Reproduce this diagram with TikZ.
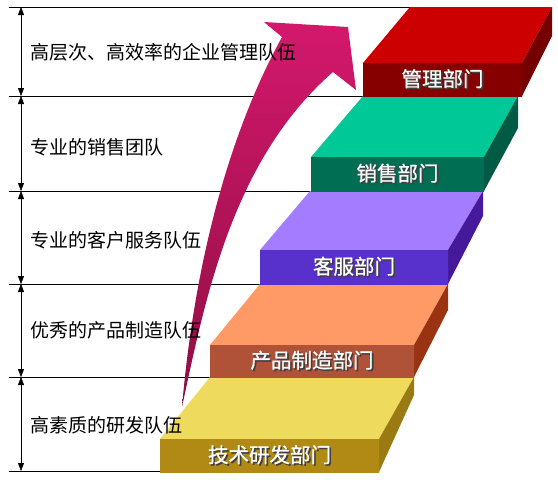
\documentclass[tikz,border=0pt]{standalone}
\usepackage{fontspec}
\setmainfont{Noto Sans CJK SC}
\newfontfamily\deptfont[FakeBold=0.8]{Noto Sans CJK SC}
\usetikzlibrary{arrows.meta}
\definecolor{redtop}{HTML}{CC0000}
\definecolor{redfrontA}{HTML}{860000}
\definecolor{redfrontB}{HTML}{AC0404}
\definecolor{redside}{HTML}{740000}
\definecolor{tealtop}{HTML}{00C896}
\definecolor{tealfrontA}{HTML}{006E52}
\definecolor{tealfrontB}{HTML}{10907A}
\definecolor{tealside}{HTML}{005A44}
\definecolor{purpletop}{HTML}{A47CFF}
\definecolor{purplefrontA}{HTML}{5830CC}
\definecolor{purplefrontB}{HTML}{7444F4}
\definecolor{purpleside}{HTML}{46189A}
\definecolor{orangetop}{HTML}{FF9966}
\definecolor{orangefrontA}{HTML}{B05238}
\definecolor{orangefrontB}{HTML}{D47254}
\definecolor{orangeside}{HTML}{993311}
\definecolor{yellowtop}{HTML}{EEDB5E}
\definecolor{yellowfrontA}{HTML}{B08A14}
\definecolor{yellowfrontB}{HTML}{D2AC30}
\definecolor{yellowside}{HTML}{9A7A12}
\definecolor{arrowA}{HTML}{D4186C}
\definecolor{arrowB}{HTML}{8E0E42}
% white name with a dark drop shadow
\newcommand{\deptname}[1]{\makebox[0pt][l]{\kern1.6pt\raisebox{-1.6pt}{\color{black!75}#1}}#1}

\begin{document}
\begin{tikzpicture}[line cap=round,line join=round,x=1pt,y=-1pt,
  >={Triangle[length=8pt,width=6pt]},
  teamlabel/.style={anchor=west,inner sep=0pt,font=\fontsize{19}{19}\selectfont},
  deptlabel/.style={inner sep=0pt,text=white,font=\deptfont\fontsize{20.5}{21}\selectfont}]
\useasboundingbox (0,0) rectangle (558,480);
% level lines
\draw (9,7)-- (410,7);
\draw (9,96)-- (363,96);
\draw (9,191)-- (311,191);
\draw (9,284)-- (260,284);
\draw (9,377)-- (210,377);
\draw (9,471)-- (160,471);
% dimension arrows
\draw[<->] (21,7)-- (21,96);
\draw[<->] (21,96)-- (21,191);
\draw[<->] (21,191)-- (21,284);
\draw[<->] (21,284)-- (21,377);
\draw[<->] (21,377)-- (21,471);
% yellow step
\fill[yellowtop] (160,439)-- (210,377)-- (414,377)-- (379,439)-- cycle;
\fill[yellowside] (379,439)-- (414,377)-- (414,395)-- (379,472)-- cycle;
\shade[top color=yellowfrontA,middle color=yellowfrontB,bottom color=yellowfrontA] (160,439) rectangle (379,472);
% orange step
\fill[orangetop] (210,345)-- (260,284)-- (448,284)-- (414,345)-- cycle;
\fill[orangeside] (414,345)-- (448,284)-- (448,310)-- (414,377)-- cycle;
\shade[top color=orangefrontA,middle color=orangefrontB,bottom color=orangefrontA] (210,345) rectangle (414,377);
% purple step
\fill[purpletop] (260,250)-- (310,191)-- (483,191)-- (448,250)-- cycle;
\fill[purpleside] (448,250)-- (483,191)-- (483,216)-- (448,284)-- cycle;
\shade[top color=purplefrontA,middle color=purplefrontB,bottom color=purplefrontA] (260,250) rectangle (448,284);
% teal step
\fill[tealtop] (311,157)-- (363,96)-- (518,96)-- (484,157)-- cycle;
\fill[tealside] (484,157)-- (518,96)-- (518,128)-- (484,191)-- cycle;
\shade[top color=tealfrontA,middle color=tealfrontB,bottom color=tealfrontA] (311,157) rectangle (484,191);
% red step
\fill[redtop] (363,63)-- (410,7)-- (552,7)-- (522,63)-- cycle;
\fill[redside] (522,63)-- (552,7)-- (552,36)-- (522,96)-- cycle;
\shade[top color=redfrontA,middle color=redfrontB,bottom color=redfrontA] (363,63) rectangle (522,96);
% big arrow
\shade[top color=arrowA,bottom color=arrowB] (182,407) .. controls (192,290) and (220,150) .. (282,37)
  -- (264,22)-- (348,27)-- (356,90)-- (333,72)
  .. controls (232,160) and (205,300) .. (182,407)-- cycle;
% team labels
\node[teamlabel] (mgmtteam) at (30,52) {高层次、高效率的企业管理队伍};
\node[teamlabel] (salesteam) at (30,147) {专业的销售团队};
\node[teamlabel] (serviceteam) at (30,240) {专业的客户服务队伍};
\node[teamlabel] (prodteam) at (30,330) {优秀的产品制造队伍};
\node[teamlabel] (rdteam) at (30,425) {高素质的研发队伍};
% department labels
\node[deptlabel] (mgmt) at (442.5,79.5) {\deptname{管理部门}};
\node[deptlabel] (sales) at (397.5,174) {\deptname{销售部门}};
\node[deptlabel] (service) at (354,267) {\deptname{客服部门}};
\node[deptlabel] (prod) at (312,361) {\deptname{产品制造部门}};
\node[deptlabel] (rd) at (269.5,455.5) {\deptname{技术研发部门}};
\end{tikzpicture}
\end{document}
